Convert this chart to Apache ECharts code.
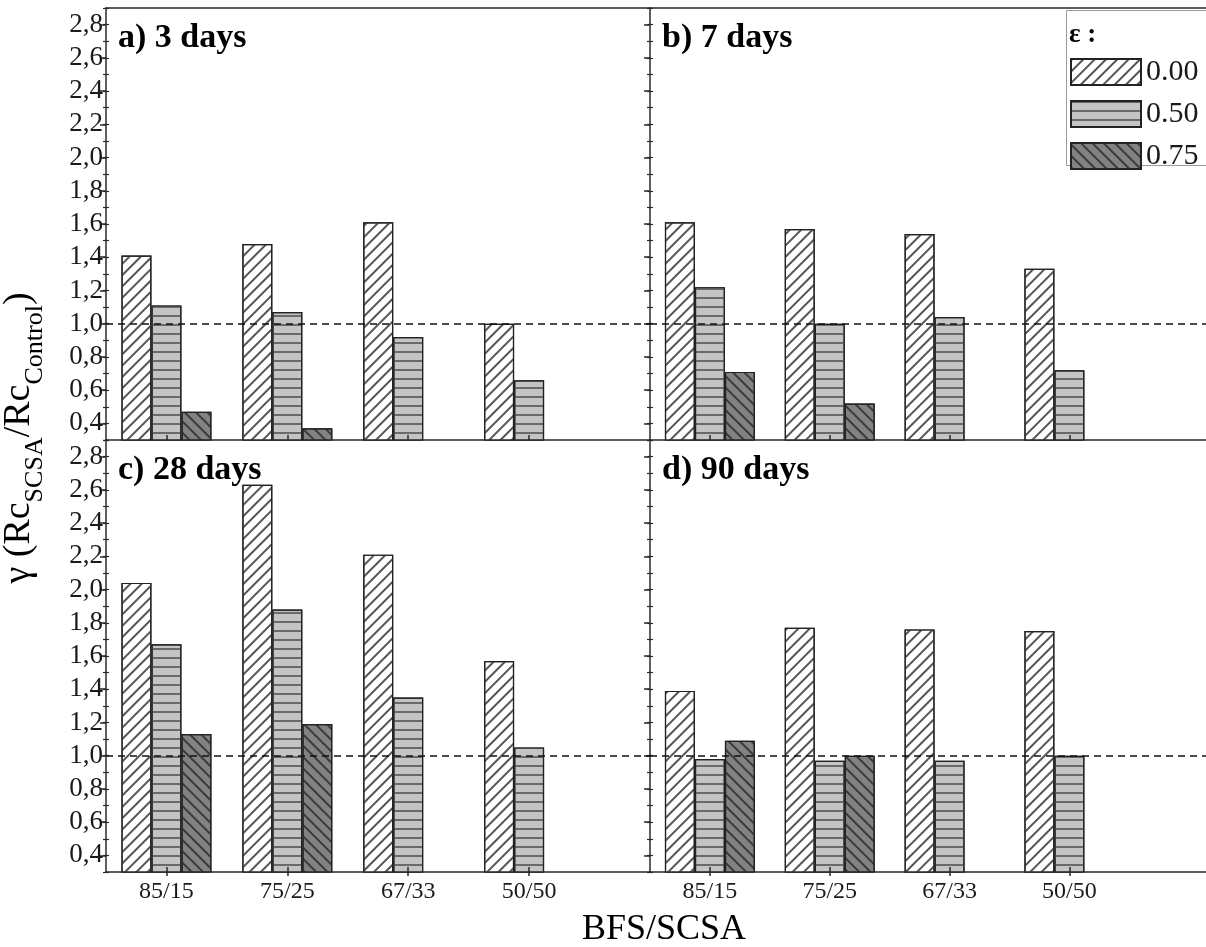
<!DOCTYPE html>
<html>
<head>
<meta charset="utf-8">
<script src="https://cdn.jsdelivr.net/npm/echarts@6/dist/echarts.min.js"></script>
<style>
html,body{margin:0;padding:0;background:#fff;}
#chart{width:1206px;height:947px;}
</style>
</head>
<body>
<div id="chart"></div>
<script>
// ---- data ----
const categories = ['85/15', '75/25', '67/33', '50/50'];
const seriesNames = ['0.00', '0.50', '0.75'];
const panelTitles = ['a) 3 days', 'b) 7 days', 'c) 28 days', 'd) 90 days'];
const yTickLabels = [0.4, 0.6, 0.8, 1.0, 1.2, 1.4, 1.6, 1.8, 2.0, 2.2, 2.4, 2.6, 2.8];
const referenceLevel = 1.0;

const days3_e000 = [1.41, 1.48, 1.61, 1.00];
const days3_e050 = [1.11, 1.07, 0.92, 0.66];
const days3_e075 = [0.47, 0.37, null, null];

const days7_e000 = [1.61, 1.57, 1.54, 1.33];
const days7_e050 = [1.22, 1.00, 1.04, 0.72];
const days7_e075 = [0.71, 0.52, null, null];

const days28_e000 = [2.04, 2.63, 2.21, 1.57];
const days28_e050 = [1.67, 1.88, 1.35, 1.05];
const days28_e075 = [1.13, 1.19, null, null];

const days90_e000 = [1.39, 1.77, 1.76, 1.75];
const days90_e050 = [0.98, 0.97, 0.97, 1.00];
const days90_e075 = [1.09, 1.00, null, null];

const panelData = [
  [days3_e000, days3_e050, days3_e075],
  [days7_e000, days7_e050, days7_e075],
  [days28_e000, days28_e050, days28_e075],
  [days90_e000, days90_e050, days90_e075]
];

// ---- styles ----
const FONT = 'Liberation Serif';
const INK = '#1a1a1a';
const AXIS = '#2a2a2a';
const grids = [
  { left: 106, top: 8, width: 544, height: 432 },
  { left: 650, top: 8, width: 556, height: 432 },
  { left: 106, top: 440, width: 544, height: 432 },
  { left: 650, top: 440, width: 556, height: 432 }
];
const xMaxes = [5, 5.14, 5, 5.14];
const catPos = categories.map((c, i) => i + 1);

const fills = ['#ffffff', '#c4c4c4', '#828282'];
const decals = [
  { symbol: 'rect', symbolSize: 1, dashArrayX: [1, 0], dashArrayY: [1.1, 6], rotation: -Math.PI / 4, color: '#555' },
  { symbol: 'rect', symbolSize: 1, dashArrayX: [1, 0], dashArrayY: [1.4, 6.5], rotation: 0, color: '#6a6a6a' },
  { symbol: 'rect', symbolSize: 1, dashArrayX: [1, 0], dashArrayY: [1.1, 5.5], rotation: Math.PI / 4, color: '#3a3a3a' }
];

const xAxes = [], yAxes = [], series = [], graphics = [];

grids.forEach((g, k) => {
  const isLeft = (k % 2 === 0);
  const isTop = k < 2;
  const xBase = xAxes.length;
  xAxes.push({
    type: 'value', gridIndex: k, position: 'bottom', min: 0.5, max: xMaxes[k],
    axisLine: { show: true, onZero: false, lineStyle: { color: AXIS, width: 1.5 } },
    axisTick: { show: !isTop, customValues: catPos, length: 4, inside: false, lineStyle: { color: AXIS, width: 1.5 } },
    axisLabel: { show: !isTop, customValues: catPos, formatter: v => categories[Math.round(v) - 1] || '',
      fontFamily: FONT, fontSize: 24, color: INK, margin: 8 },
    splitLine: { show: false }
  });
  xAxes.push({
    type: 'value', gridIndex: k, position: 'bottom', min: 0.5, max: xMaxes[k], z: 10,
    axisLine: { show: false, onZero: false },
    axisTick: { show: true, customValues: catPos, length: 5, inside: true, lineStyle: { color: AXIS, width: 1.5 } },
    axisLabel: { show: false }, splitLine: { show: false }
  });
  if (isTop) {
    xAxes.push({
      type: 'value', gridIndex: k, position: 'top', min: 0.5, max: xMaxes[k],
      axisLine: { show: true, onZero: false, lineStyle: { color: AXIS, width: 1.5 } },
      axisTick: { show: false }, axisLabel: { show: false }, splitLine: { show: false }
    });
  }
  const yBase = yAxes.length;
  yAxes.push({
    type: 'value', gridIndex: k, position: 'left', min: 0.3, max: 2.9,
    axisLine: { show: true, onZero: false, lineStyle: { color: AXIS, width: 1.5 } },
    axisTick: { show: true, customValues: yTickLabels, length: 6, inside: false, lineStyle: { color: AXIS, width: 1.5 } },
    axisLabel: { show: isLeft, customValues: yTickLabels, formatter: v => v.toFixed(1).replace('.', ','),
      fontFamily: FONT, fontSize: 27, color: INK, margin: 3 },
    splitLine: { show: false }
  });
  yAxes.push({
    type: 'value', gridIndex: k, position: 'left', min: 0.3, max: 2.9, interval: 0.1,
    axisLine: { show: false, onZero: false },
    axisTick: { show: true, length: 3, inside: false, lineStyle: { color: AXIS, width: 1.2 } },
    axisLabel: { show: false }, splitLine: { show: false }
  });
  yAxes.push({
    type: 'value', gridIndex: k, position: 'left', min: 0.3, max: 2.9, interval: 0.1, z: 10,
    axisLine: { show: false, onZero: false },
    axisTick: { show: true, length: 3, inside: true, lineStyle: { color: AXIS, width: 1.2 } },
    axisLabel: { show: false }, splitLine: { show: false }
  });

  panelData[k].forEach((vals, s) => {
    const item = {
      type: 'bar', name: seriesNames[s], xAxisIndex: xBase, yAxisIndex: yBase,
      barWidth: 30, barGap: '0%',
      data: vals.map((v, i) => [catPos[i], v]).filter(d => d[1] !== null),
      itemStyle: { color: fills[s], borderColor: '#222', borderWidth: 1.2, decal: decals[s] },
      emphasis: { disabled: true },
      animation: false
    };
    if (s === 0) {
      item.markLine = {
        silent: true, symbol: 'none', z: 20,
        label: { show: false },
        lineStyle: { type: [7, 5], color: '#111', width: 1.6 },
        data: [{ yAxis: referenceLevel }]
      };
    }
    series.push(item);
  });

  graphics.push({
    type: 'text', left: g.left + 12, top: g.top + 13, z: 50,
    style: { text: panelTitles[k], fontFamily: FONT, fontWeight: 'bold', fontSize: 34, fill: '#000' }
  });
});

// legend box
graphics.push({
  type: 'rect', shape: { x: 1066.5, y: 10.5, width: 160, height: 155 }, z: 40,
  style: { fill: '#fff', stroke: '#9a9a9a', lineWidth: 1 }
});
graphics.push({
  type: 'text', x: 1069, y: 22, z: 41,
  style: { text: 'ε :', fontFamily: FONT, fontWeight: 'bold', fontSize: 27, fill: '#000' }
});
// y axis title
graphics.push({
  type: 'text', x: 24, y: 438, rotation: Math.PI / 2, z: 50,
  style: {
    text: '{m|γ (Rc}{s|SCSA}{m|/Rc}{s|Control}{m|)}',
    align: 'center', verticalAlign: 'middle',
    rich: {
      m: { fontFamily: FONT, fontSize: 38, fill: '#000', verticalAlign: 'bottom', padding: [0, 0, 10, 0] },
      s: { fontFamily: FONT, fontSize: 26, fill: '#000', verticalAlign: 'bottom' }
    }
  }
});
// x axis title
graphics.push({
  type: 'text', x: 664, y: 930, z: 50,
  style: { text: 'BFS/SCSA', fontFamily: FONT, fontSize: 36, fill: '#000', align: 'center', verticalAlign: 'middle' }
});

const chart = echarts.init(document.getElementById('chart'), null, { renderer: 'canvas' });
chart.setOption({
  backgroundColor: '#fff',
  animation: false,
  grid: grids,
  xAxis: xAxes,
  yAxis: yAxes,
  legend: {
    data: seriesNames, orient: 'vertical', left: 1070, top: 57, z: 45,
    itemWidth: 70, itemHeight: 26, itemGap: 12, padding: 0, icon: 'rect',
    textStyle: { fontFamily: FONT, fontSize: 30, color: INK, lineHeight: 27 },
    selectedMode: false
  },
  graphic: graphics,
  series: series
});
</script>
</body>
</html>
